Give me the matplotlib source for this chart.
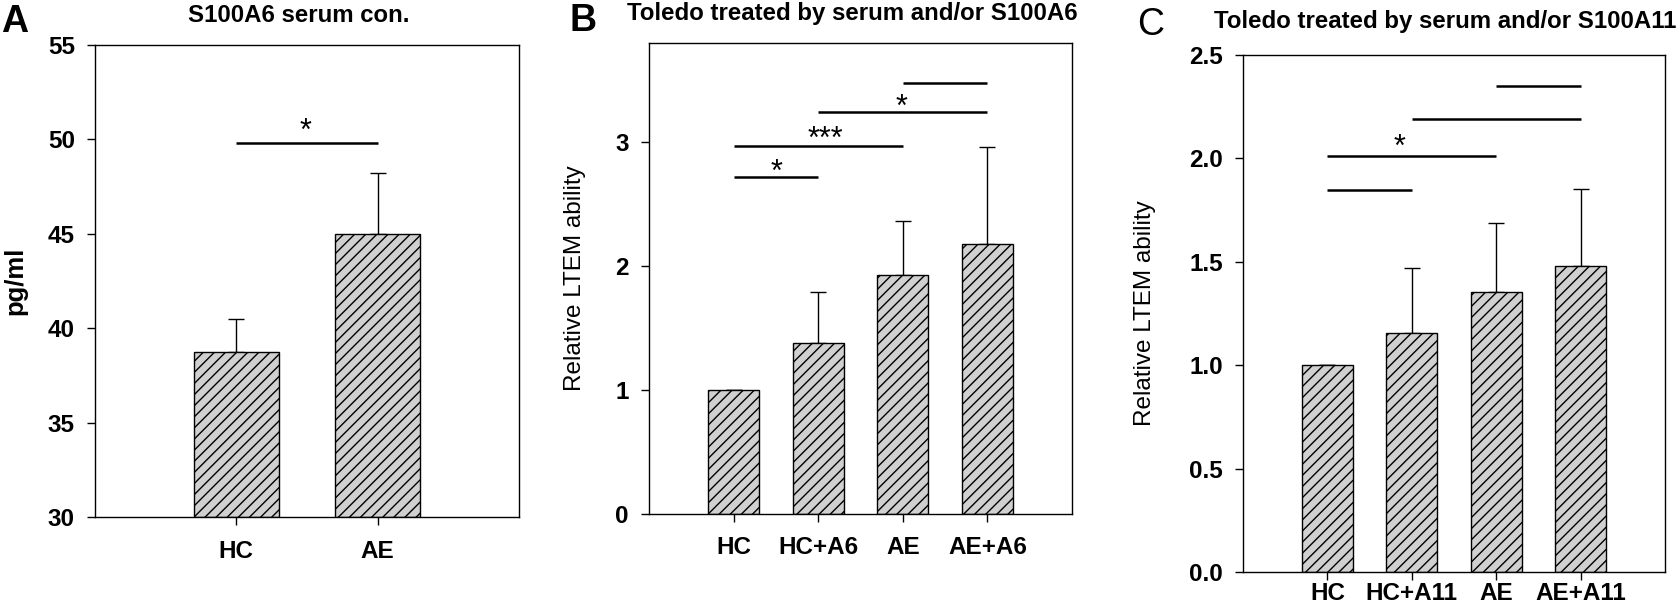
import numpy as np
import matplotlib
matplotlib.use('Agg')
import matplotlib.pyplot as plt

plt.rcParams['font.family'] = ['Liberation Sans', 'DejaVu Sans']
plt.rcParams['hatch.linewidth'] = 1.0

# panel A: serum concentration
a_groups = ['HC', 'AE']
a_means = [38.75, 45.0]
a_err = [1.75, 3.2]

# panel B: S100A6
b_groups = ['HC', 'HC+A6', 'AE', 'AE+A6']
b_means = [1.0, 1.38, 1.93, 2.18]
b_err = [0.0, 0.41, 0.43, 0.78]

# panel C: S100A11
c_groups = ['HC', 'HC+A11', 'AE', 'AE+A11']
c_means = [1.0, 1.154, 1.353, 1.479]
c_err = [0.0, 0.317, 0.333, 0.374]

# significance bars: (from, to, height, label, label x, label y)
a_sig = [(0, 1, 49.81, '*', 0.49, 50.40)]
b_sig = [(0, 1, 2.72, '*', 0.51, 2.75),
         (0, 2, 2.97, '***', 1.08, 3.02),
         (1, 3, 3.24, '*', 1.99, 3.28),
         (2, 3, 3.48, '', 0, 0)]
c_sig = [(0, 1, 1.845, '', 0, 0),
         (0, 2, 2.014, '*', 0.85, 2.052),
         (1, 3, 2.189, '', 0, 0),
         (2, 3, 2.348, '', 0, 0)]

W, H = 1677, 609
fig = plt.figure(figsize=(W / 100, H / 100), dpi=100)


def px_axes(left, right, top, bottom):
    return fig.add_axes([left / W, 1 - bottom / H, (right - left) / W, (bottom - top) / H])


def draw_panel(ax, groups, means, err, sig, ylim, yticks, fmt, ylabel, ylabel_bold, label_x, xpad):
    x = np.arange(len(groups))
    ax.bar(x, np.array(means) - ylim[0], bottom=ylim[0], width=0.6, color='#d0d0d0',
           edgecolor='black', linewidth=1.0, hatch='///', zorder=2)
    ax.errorbar(x, means, yerr=[np.zeros(len(err)), err], fmt='none', ecolor='black',
                elinewidth=1.0, capsize=5.5, capthick=1.0, zorder=1)
    for i, j, y, lab, lx, ly in sig:
        ax.plot([i, j], [y, y], color='black', lw=1.8, solid_capstyle='butt')
        if lab:
            ax.text(lx, ly, lab, ha='center', va='center', fontsize=22)
    ax.set_xlim(-1, len(groups))
    ax.set_ylim(*ylim)
    ax.set_xticks(x)
    ax.set_xticklabels(groups, fontsize=17.5, fontweight='bold')
    ax.set_yticks(yticks)
    ax.set_yticklabels([fmt % t for t in yticks], fontsize=17.5, fontweight='bold')
    ax.tick_params(direction='out', length=5.5, width=1.0, top=False, right=False)
    ax.tick_params(axis='x', pad=xpad)
    ax.tick_params(axis='y', pad=9)
    ax.set_ylabel(ylabel, fontsize=18.5 if ylabel_bold else 17.5,
                  fontweight='bold' if ylabel_bold else 'normal')
    ax.yaxis.set_label_coords(label_x, 0.5)
    for s in ax.spines.values():
        s.set_linewidth(1.0)


axA = px_axes(95, 519, 45, 517)
draw_panel(axA, a_groups, a_means, a_err, a_sig, (30, 55), [30, 35, 40, 45, 50, 55], '%d',
           'pg/ml', True, -0.160, 11)

axB = px_axes(649, 1072, 43, 514)
draw_panel(axB, b_groups, b_means, b_err, b_sig, (0, 3.8), [0, 1, 2, 3], '%d',
           'Relative LTEM ability', False, -0.149, 10)

axC = px_axes(1243, 1665, 55, 572)
draw_panel(axC, c_groups, c_means, c_err, c_sig, (0, 2.5), [0, 0.5, 1.0, 1.5, 2.0, 2.5], '%.1f',
           'Relative LTEM ability', False, -0.206, 1.5)

# titles and panel letters
fig.text(299 / W, 1 - 22 / H, 'S100A6 serum con.', ha='center', va='baseline',
         fontsize=17.3, fontweight='bold')
fig.text(852 / W, 1 - 20 / H, 'Toledo treated by serum and/or S100A6', ha='center', va='baseline',
         fontsize=17.3, fontweight='bold')
fig.text(1445 / W, 1 - 28 / H, 'Toledo treated by serum and/or S100A11', ha='center', va='baseline',
         fontsize=17.3, fontweight='bold')
fig.text(15 / W, 1 - 32 / H, 'A', ha='center', va='baseline', fontsize=27, fontweight='bold')
fig.text(583 / W, 1 - 31 / H, 'B', ha='center', va='baseline', fontsize=27, fontweight='bold')
fig.text(1151 / W, 1 - 35 / H, 'C', ha='center', va='baseline', fontsize=27, fontweight='normal')

fig.savefig('out.png', dpi=100)
